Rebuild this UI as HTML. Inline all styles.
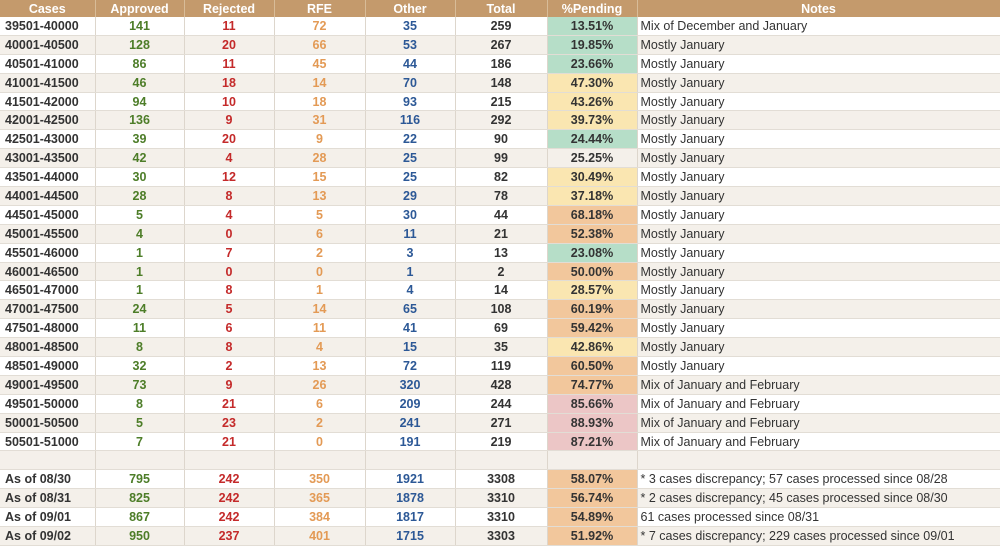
<!DOCTYPE html>
<html><head><meta charset="utf-8">
<style>
body{margin:0;width:1000px;height:548px;overflow:hidden;background:#fff;font-family:"Liberation Sans",Arial,sans-serif;}
table{border-collapse:collapse;table-layout:fixed;width:1000px;}
th{background:#c49a6c;color:#fff;font-weight:bold;font-size:12.5px;height:17px;padding:0;border-right:1px solid #d8bc98;}
td{height:17.9px;padding:0;font-size:12.5px;border-right:1px solid #ddd6cc;border-bottom:1px solid #e2ddd5;text-align:center;font-weight:bold;color:#333;}
tr.alt td{background:#f4f0ea;}
td.case{text-align:left;padding-left:5px;}
td.note{text-align:left;padding-left:3px;font-weight:normal;color:#333;}
td.ap{color:#4d7d28;} td.rj{color:#c42a2a;} td.rf{color:#e39a55;} td.ot{color:#2c5896;}
tr td.g{background:#b6dec8;} tr td.y{background:#fae6b1;} tr td.o{background:#f2c79c;} tr td.p{background:#ecc6c6;}
</style></head><body>
<table>
<colgroup><col style="width:95px"><col style="width:89px"><col style="width:90px"><col style="width:91px"><col style="width:90px"><col style="width:92px"><col style="width:90px"><col style="width:363px"></colgroup>
<thead><tr>
<th>Cases</th>
<th>Approved</th>
<th>Rejected</th>
<th>RFE</th>
<th>Other</th>
<th>Total</th>
<th>%Pending</th>
<th>Notes</th>
</tr></thead>
<tbody id="tb"></tbody>
</table>
<script>
const cases=["39501-40000","40001-40500","40501-41000","41001-41500","41501-42000","42001-42500","42501-43000","43001-43500","43501-44000","44001-44500","44501-45000","45001-45500","45501-46000","46001-46500","46501-47000","47001-47500","47501-48000","48001-48500","48501-49000","49001-49500","49501-50000","50001-50500","50501-51000","","As of 08/30","As of 08/31","As of 09/01","As of 09/02"];
const approved=[141,128,86,46,94,136,39,42,30,28,5,4,1,1,1,24,11,8,32,73,8,5,7,"",795,825,867,950];
const rejected=[11,20,11,18,10,9,20,4,12,8,4,0,7,0,8,5,6,8,2,9,21,23,21,"",242,242,242,237];
const rfe=[72,66,45,14,18,31,9,28,15,13,5,6,2,0,1,14,11,4,13,26,6,2,0,"",350,365,384,401];
const other=[35,53,44,70,93,116,22,25,25,29,30,11,3,1,4,65,41,15,72,320,209,241,191,"",1921,1878,1817,1715];
const total=[259,267,186,148,215,292,90,99,82,78,44,21,13,2,14,108,69,35,119,428,244,271,219,"",3308,3310,3310,3303];
const pending=["13.51%","19.85%","23.66%","47.30%","43.26%","39.73%","24.44%","25.25%","30.49%","37.18%","68.18%","52.38%","23.08%","50.00%","28.57%","60.19%","59.42%","42.86%","60.50%","74.77%","85.66%","88.93%","87.21%","","58.07%","56.74%","54.89%","51.92%"];
const shade=["g","g","g","y","y","y","g","","y","y","o","o","g","o","y","o","o","y","o","o","p","p","p","","o","o","o","o"];
const notes=["Mix of December and January","Mostly January","Mostly January","Mostly January","Mostly January","Mostly January","Mostly January","Mostly January","Mostly January","Mostly January","Mostly January","Mostly January","Mostly January","Mostly January","Mostly January","Mostly January","Mostly January","Mostly January","Mostly January","Mix of January and February","Mix of January and February","Mix of January and February","Mix of January and February","","* 3 cases discrepancy; 57 cases processed since 08/28","* 2 cases discrepancy; 45 cases processed since 08/30","61 cases processed since 08/31","* 7 cases discrepancy; 229 cases processed since 09/01"];
const tb=document.getElementById('tb');
cases.forEach((c,i)=>{
  const tr=document.createElement('tr');
  
  
  if(i%2) tr.className='alt';
  const cells=[[c,'case','case-cell'],[approved[i],'ap','approved-cell'],[rejected[i],'rj','rejected-cell'],[rfe[i],'rf','rfe-cell'],[other[i],'ot','other-cell'],[total[i],'','total-cell'],[pending[i],shade[i],'pending-cell'],[notes[i],'note','notes-cell']];
  cells.forEach(([v,cls,nm])=>{
    const td=document.createElement('td');
    
    
    if(cls) td.className=cls;
    td.textContent=v;
    tr.appendChild(td);
  });
  tb.appendChild(tr);
});
</script>
</body></html>
